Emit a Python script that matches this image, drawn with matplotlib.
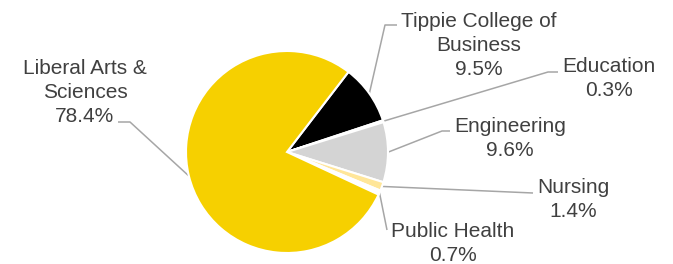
import numpy as np
import matplotlib
matplotlib.use("Agg")
import matplotlib.pyplot as plt

# share of students by college, clockwise from the black slice
colleges = ["Tippie College of\nBusiness", "Education", "Engineering",
            "Nursing", "Public Health", "Liberal Arts &\nSciences"]
shares = [9.5, 0.3, 9.6, 1.4, 0.7, 78.4]
colors = ["#000000", "#FFFFFF", "#D4D4D4", "#FFE699", "#FFFFFF", "#F6D000"]

W, H = 673, 264
plt.rcParams["font.family"] = ["Liberation Sans", "DejaVu Sans"]

fig = plt.figure(figsize=(W / 100, H / 100), dpi=100)
ax = fig.add_axes([0, 0, 1, 1])
ax.set_xlim(0, W)
ax.set_ylim(0, H)
ax.axis("off")


def py(y):
    # pixel row (from top) to data y
    return H - y


cx, cy, r = 287, py(152), 101
wedges, _ = ax.pie(shares, colors=colors, startangle=52.5, counterclock=False,
                   center=(cx, cy), radius=r, frame=True,
                   wedgeprops=dict(edgecolor="white", linewidth=1.5))
ax.set_xlim(0, W)
ax.set_ylim(0, H)
ax.set_aspect("equal")
ax.axis("off")

# label layout: text centre x, first baseline row, elbow point, text-side end
layout = {
    "Tippie College of\nBusiness": dict(tx=479, ty=27, elbow=(385, 25), end=(397, 25)),
    "Education": dict(tx=609, ty=72, elbow=(548, 72), end=(558, 72)),
    "Engineering": dict(tx=510, ty=132, elbow=(442, 131), end=(450, 131)),
    "Nursing": dict(tx=573, ty=193, elbow=None, end=(533, 193)),
    "Public Health": dict(tx=453, ty=237, elbow=None, end=(387, 230)),
    "Liberal Arts &\nSciences": dict(tx=85, ty=74, elbow=(130, 122), end=(118, 122)),
}

line_gap = 24
for w, name, val in zip(wedges, colleges, shares):
    L = layout[name]
    mid = np.deg2rad((w.theta1 + w.theta2) / 2)
    px0 = cx + r * np.cos(mid)
    py0 = cy + r * np.sin(mid)
    xs, ys = [px0], [py0]
    if L["elbow"] is not None:
        xs.append(L["elbow"][0]); ys.append(py(L["elbow"][1]))
    xs.append(L["end"][0]); ys.append(py(L["end"][1]))
    ax.plot(xs, ys, color="#A6A6A6", lw=1.1, solid_capstyle="butt", zorder=0)

    lines = name.split("\n") + [f"{val}%"]
    for i, t in enumerate(lines):
        ax.text(L["tx"], py(L["ty"] + i * line_gap), t, ha="center",
                va="baseline", fontsize=15, color="#404040")

fig.savefig("out.png", dpi=100)
